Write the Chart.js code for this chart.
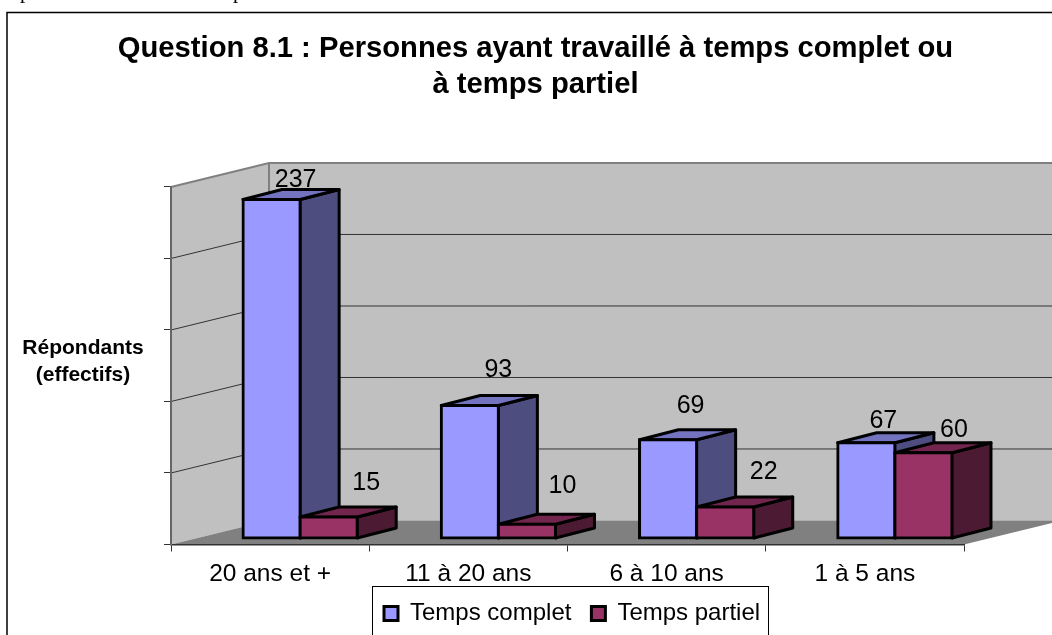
<!DOCTYPE html>
<html lang="fr">
<head>
<meta charset="utf-8">
<title>Question 8.1</title>
<script src="https://cdn.jsdelivr.net/npm/chart.js@4/dist/chart.umd.min.js"></script>
<style>
html,body{margin:0;padding:0;background:#fff;overflow:hidden}
canvas{display:block}
</style>
</head>
<body>
<canvas id="c" width="1052" height="635"></canvas>
<script>
const categories = ["20 ans et +", "11 à 20 ans", "6 à 10 ans", "1 à 5 ans"];
const seriesNames = ["Temps complet", "Temps partiel"];
const tempsComplet = [237, 93, 69, 67];
const tempsPartiel = [15, 10, 22, 60];
const titleLines = ["Question 8.1 : Personnes ayant travaillé à temps complet ou", "à temps partiel"];
const axisTitleLines = ["Répondants", "(effectifs)"];
const axisMax = 250;
const axisStep = 50;

// layout and styling of the oblique projection
const FONT = '"Liberation Sans", Arial, sans-serif';
const WALL = {dx: 98, dy: -24};
const BAR_SHIFT = {dx: 30, dy: -6};
const BAR_DEPTH = {dx: 39, dy: -10};
const EDGE = 3;
const FACES = [
  {front: "#9999FF", side: "#4D4D80", top: "#7373BF"},
  {front: "#993366", side: "#4D1A33", top: "#73264D"}
];
// hand-placed value labels: offset from the top centre of each bar's front face
const LABEL_SHIFT = [
  [[24, -19], [28.5, -35.7], [22.5, -34], [17, -22]],
  [[37.5, -34.4], [35.5, -38], [38.5, -35], [30.5, -23]]
];

function poly(ctx, pts, fill, stroke, lw) {
  ctx.beginPath();
  pts.forEach((p, i) => i ? ctx.lineTo(p[0], p[1]) : ctx.moveTo(p[0], p[1]));
  ctx.closePath();
  if (fill) { ctx.fillStyle = fill; ctx.fill(); }
  if (stroke) { ctx.strokeStyle = stroke; ctx.lineWidth = lw; ctx.lineJoin = "round"; ctx.stroke(); }
}

function drawPrism(chart, index) {
  const {ctx} = chart;
  const meta = chart.getDatasetMeta(index);
  const f = FACES[index];
  ctx.save();
  ctx.translate(BAR_SHIFT.dx, BAR_SHIFT.dy);
  meta.data.forEach(b => {
    const l = b.x - b.width / 2, r = b.x + b.width / 2, t = b.y, bt = b.base;
    const d = BAR_DEPTH;
    poly(ctx, [[r, t], [r + d.dx, t + d.dy], [r + d.dx, bt + d.dy], [r, bt]], f.side, "#000", EDGE);
    poly(ctx, [[l, t], [l + d.dx, t + d.dy], [r + d.dx, t + d.dy], [r, t]], f.top, "#000", EDGE);
  });
  meta.controller.draw();
  ctx.restore();
}

const scene = {
  id: "scene",
  afterLayout(chart) {
    const t = chart.titleBlock;
    t.left = 11; t.right = 1060;
    const l = chart.legend;
    l.left = 364; l.right = 1052; l.top = 581.5;
  },
  beforeDraw(chart) {
    const {ctx, scales: {x, y}} = chart;
    ctx.save();
    // frame
    ctx.strokeStyle = "#000"; ctx.lineWidth = 1.5;
    ctx.strokeRect(7, 12.5, 1053, 640);
    // clipped text line above the chart
    ctx.fillStyle = "#000"; ctx.font = '21px "Liberation Serif", serif';
    ctx.textBaseline = "alphabetic"; ctx.textAlign = "left";
    ctx.fillText("p", 20, -2); ctx.fillText("p", 233, -2);
    // walls and floor
    const y0 = y.getPixelForValue(0), yM = y.getPixelForValue(axisMax);
    const L = x.left, R = x.right, dx = WALL.dx, dy = WALL.dy;
    poly(ctx, [[L, yM], [L + dx, yM + dy], [L + dx, y0 + dy], [L, y0]], "#C0C0C0");
    poly(ctx, [[L + dx, yM + dy], [R + dx, yM + dy], [R + dx, y0 + dy], [L + dx, y0 + dy]], "#C0C0C0");
    poly(ctx, [[L, y0], [R, y0], [R + dx, y0 + dy], [L + dx, y0 + dy]], "#808080");
    // grid lines
    ctx.strokeStyle = "#333"; ctx.lineWidth = 1;
    for (let v = axisStep; v < axisMax; v += axisStep) {
      const p = y.getPixelForValue(v);
      ctx.beginPath();
      ctx.moveTo(L, p); ctx.lineTo(L + dx, p + dy); ctx.lineTo(R + dx, p + dy);
      ctx.stroke();
    }
    // top edges of the walls
    ctx.strokeStyle = "#808080"; ctx.lineWidth = 2;
    ctx.beginPath();
    ctx.moveTo(L, yM); ctx.lineTo(L + dx, yM + dy); ctx.lineTo(R + dx, yM + dy);
    ctx.moveTo(L + dx, yM + dy); ctx.lineTo(L + dx, y0 + dy);
    ctx.stroke();
    // vertical axis title
    ctx.fillStyle = "#000"; ctx.font = "bold 21px " + FONT;
    ctx.textAlign = "center"; ctx.textBaseline = "middle";
    axisTitleLines.forEach((s, i) => ctx.fillText(s, 83, 348 + i * 27.5));
    ctx.restore();
  },
  // the library paints the last dataset first; paint back to front instead
  beforeDatasetDraw() { return false; },
  afterDatasetsDraw(chart) {
    const {ctx} = chart;
    chart.data.datasets.forEach((ds, i) => drawPrism(chart, i));
    ctx.save();
    ctx.fillStyle = "#000"; ctx.font = "25px " + FONT;
    ctx.textAlign = "center"; ctx.textBaseline = "middle";
    chart.data.datasets.forEach((ds, i) => {
      chart.getDatasetMeta(i).data.forEach((b, j) => {
        const s = LABEL_SHIFT[i][j];
        ctx.fillText(String(ds.data[j]), b.x + BAR_SHIFT.dx + s[0], b.y + BAR_SHIFT.dy + s[1]);
      });
    });
    ctx.restore();
  },
  afterDraw(chart) {
    const {ctx} = chart;
    ctx.save();
    ctx.strokeStyle = "#000"; ctx.lineWidth = 1;
    ctx.strokeRect(372.5, 586.5, 396, 80);
    ctx.restore();
  }
};

new Chart(document.getElementById("c"), {
  type: "bar",
  data: {
    labels: categories,
    datasets: [
      {label: seriesNames[0], data: tempsComplet, backgroundColor: FACES[0].front},
      {label: seriesNames[1], data: tempsPartiel, backgroundColor: FACES[1].front}
    ]
  },
  plugins: [scene],
  options: {
    responsive: false,
    animation: false,
    events: [],
    layout: {padding: {left: 164, right: 88, top: 0, bottom: -54.5}},
    categoryPercentage: 0.576,
    barPercentage: 1,
    elements: {bar: {borderColor: "#000", borderWidth: EDGE, borderSkipped: false, inflateAmount: EDGE / 2}},
    scales: {
      x: {
        grid: {drawOnChartArea: false, drawTicks: true, tickLength: 7, color: "#333", lineWidth: 1},
        border: {display: true, color: "#333", width: 1.5},
        ticks: {color: "#000", font: {family: FONT, size: 24.5}, padding: 8, maxRotation: 0, autoSkip: false},
        afterFit(s) { s.height = 91; }
      },
      y: {
        min: 0, max: axisMax,
        grid: {drawOnChartArea: false, drawTicks: true, tickLength: 7, color: "#333", lineWidth: 1},
        border: {display: true, color: "#666", width: 2},
        ticks: {display: false, stepSize: axisStep},
        afterFit(s) { s.width = 7; }
      }
    },
    plugins: {
      tooltip: {enabled: false},
      title: {
        display: true,
        text: titleLines,
        color: "#000",
        font: {family: FONT, size: 29.2, weight: "bold", lineHeight: 1.253},
        padding: {top: 30.5, bottom: 83.3}
      },
      legend: {
        display: true,
        position: "bottom",
        align: "start",
        labels: {
          color: "#000",
          font: {family: FONT, size: 24},
          boxWidth: 14, boxHeight: 14,
          padding: 20
        }
      }
    }
  }
});
</script>
</body>
</html>
